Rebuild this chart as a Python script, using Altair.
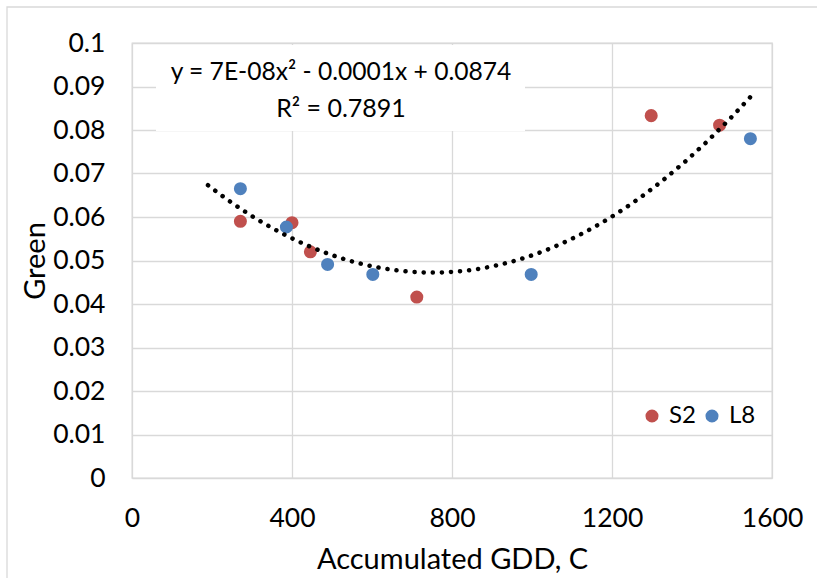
import altair as alt
import pandas as pd

# ---- data ----
s2_x = [271, 400, 446, 712, 1298, 1469]
s2_y = [0.0590, 0.0587, 0.0520, 0.0416, 0.0833, 0.0811]
l8_x = [271, 386, 489, 602, 998, 1546]
l8_y = [0.0665, 0.0577, 0.0491, 0.0468, 0.0468, 0.0780]
series_names = ["S2", "L8"]
series_colors = ["#C0504D", "#4F81BD"]
x_ticks = [0, 400, 800, 1200, 1600]
y_ticks = [0, 0.01, 0.02, 0.03, 0.04, 0.05, 0.06, 0.07, 0.08, 0.09, 0.1]
trend_extent = [190, 1546]
eq_text = "y = 7E-08x\u00b2 - 0.0001x + 0.0874"
r2_text = "R\u00b2 = 0.7891"

df = pd.DataFrame({
    "x": s2_x + l8_x,
    "y": s2_y + l8_y,
    "series": ["S2"] * len(s2_x) + ["L8"] * len(l8_x),
})
one = pd.DataFrame({"a": [0]})

FONT = "Lato"
W, H = 640, 435

xenc = alt.X("x:Q", scale=alt.Scale(domain=[0, 1600], nice=False),
             axis=alt.Axis(values=x_ticks, title="Accumulated GDD, C", format="d",
                           labelPadding=27, labelFlush=False, labelOverlap=False,
                           titleY=90, titleBaseline="alphabetic"))
yenc = alt.Y("y:Q", scale=alt.Scale(domain=[0, 0.1], nice=False),
             axis=alt.Axis(values=y_ticks, title="Green", format=".2~f",
                           labelPadding=27, labelFlush=False, labelOverlap=False,
                           titleX=-88, titleBaseline="alphabetic"))

border = alt.Chart(one).mark_rect(fill=None, stroke="#D9D9D9", strokeWidth=1.3, clip=False).encode(
    x=alt.value(-125), x2=alt.value(720), y=alt.value(-36), y2=alt.value(600))

points = alt.Chart(df).mark_point(filled=True, size=170, opacity=1, shape="circle").encode(
    x=xenc, y=yenc,
    color=alt.Color("series:N", scale=alt.Scale(domain=series_names, range=series_colors),
                    sort=series_names,
                    legend=alt.Legend(title=None, orient="none", legendX=508, legendY=361,
                                      direction="horizontal", labelFontSize=24, labelFont=FONT,
                                      labelColor="#000000", symbolSize=170, symbolType="circle",
                                      labelOffset=5, columnPadding=4, padding=0,
                                      symbolStrokeWidth=0, symbolOpacity=1)),
    order=alt.Order("ord:Q"),
).transform_calculate(ord="datum.series == 'S2' ? 0 : 1")

trend = alt.Chart(df).transform_regression(
    "x", "y", method="poly", order=2, extent=trend_extent
).mark_line(color="black", strokeWidth=4.5, strokeDash=[0.1, 9], strokeCap="round").encode(
    x="x:Q", y="y:Q")

box = alt.Chart(one).mark_rect(fill="white", stroke=None).encode(
    x=alt.value(24), x2=alt.value(393), y=alt.value(2), y2=alt.value(88))

eq = alt.Chart(one).mark_text(text=eq_text, font=FONT, fontSize=24.6, color="black",
                              align="center", baseline="alphabetic").encode(
    x=alt.value(209), y=alt.value(36.6))
r2 = alt.Chart(one).mark_text(text=r2_text, font=FONT, fontSize=25, color="black",
                              align="center", baseline="alphabetic").encode(
    x=alt.value(209), y=alt.value(74))

chart = alt.layer(border, box, points, trend, eq, r2).properties(
    width=W, height=H,
    background="white",
    padding={"left": 132, "top": 43, "right": 817 - 132 - W, "bottom": 578 - 43 - H},
    autosize=alt.AutoSizeParams(type="none"),
).configure_view(
    stroke="#D9D9D9", strokeWidth=1.3
).configure_axis(
    grid=True, gridColor="#D9D9D9", gridWidth=1.3, domain=False, ticks=False, tickSize=0,
    labelFont=FONT, labelFontSize=26.5, labelColor="#000000",
    titleFont=FONT, titleFontSize=29, titleColor="#000000", titleFontWeight="normal",
).configure_legend(
    labelFont=FONT, labelFontSize=24, labelColor="#000000", symbolSize=170,
    labelOffset=5, columnPadding=4, padding=0,
)

chart.save("out.html", embed_options={"renderer": "svg", "actions": False})
